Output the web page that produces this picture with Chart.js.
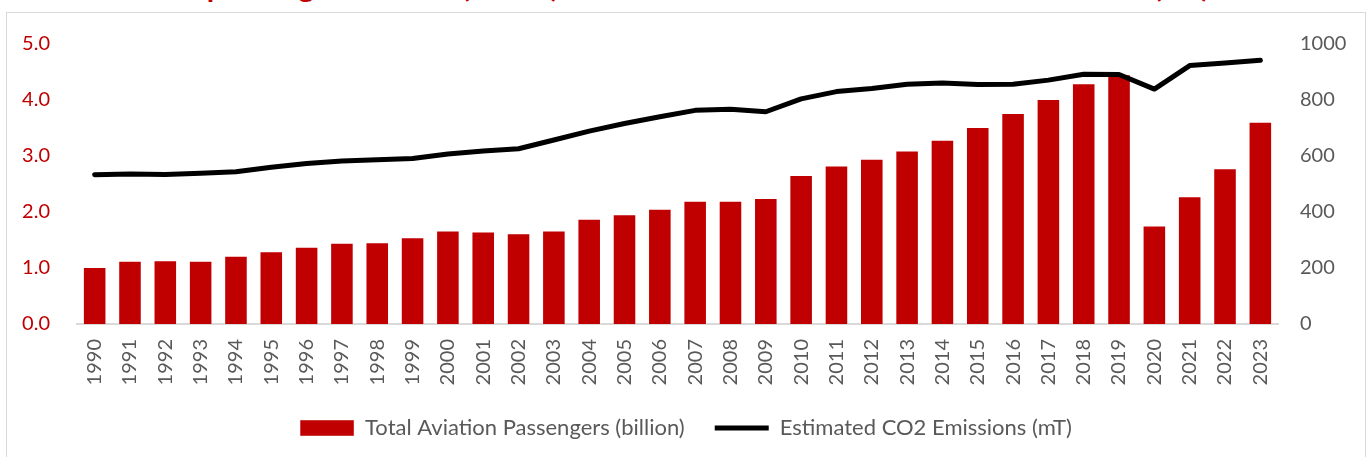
<!DOCTYPE html>
<html>
<head>
<meta charset="utf-8">
<script src="https://cdn.jsdelivr.net/npm/chart.js@4/dist/chart.umd.min.js"></script>
<style>
  html, body { margin: 0; padding: 0; background: #fff; overflow: hidden; }
  #title {
    position: absolute; left: 0; top: -30px; width: 1370px; text-align: center;
    font: bold 30px Lato, sans-serif; line-height: 30px; color: #c00000; white-space: nowrap;
  }
  #box {
    position: absolute; left: 6px; top: 12px; width: 1358px; height: 460px;
    border: 1px solid #d9d9d9;
  }
  #wrap { position: relative; width: 1358px; height: 444px; }
</style>
</head>
<body>
<div id="title">Air passengers carried (billion) and estimated CO2 emissions from aviation (mT)</div>
<div id="box"><div id="wrap"><canvas id="chart"></canvas></div></div>
<script>
// values
const years = ["1990", "1991", "1992", "1993", "1994", "1995", "1996", "1997", "1998", "1999",
  "2000", "2001", "2002", "2003", "2004", "2005", "2006", "2007", "2008", "2009",
  "2010", "2011", "2012", "2013", "2014", "2015", "2016", "2017", "2018", "2019",
  "2020", "2021", "2022", "2023"];

const passengers = [1.02, 1.13, 1.14, 1.13, 1.22, 1.30, 1.38, 1.45, 1.46, 1.55,
  1.67, 1.65, 1.62, 1.67, 1.88, 1.96, 2.06, 2.20, 2.20, 2.25,
  2.66, 2.83, 2.95, 3.10, 3.29, 3.52, 3.77, 4.02, 4.30, 4.46,
  1.76, 2.28, 2.78, 3.61];

const emissions = [533, 536, 534, 538, 544, 560, 573, 582, 587, 591,
  607, 618, 626, 657, 689, 716, 740, 763, 767, 758,
  804, 830, 841, 856, 861, 855, 856, 871, 892, 891,
  839, 923, 932, 942];

const leftTicks = [0, 1, 2, 3, 4, 5];
const rightTicks = [0, 200, 400, 600, 800, 1000];

const grey = "#595959";
const red = "#c00000";
const tickFont = { family: "Lato", size: 20 };

new Chart(document.getElementById("chart"), {
  type: "bar",
  data: {
    labels: years,
    datasets: [
      {
        type: "bar",
        label: "Total Aviation Passengers (billion)",
        data: passengers,
        backgroundColor: red,
        borderColor: "rgba(255,255,255,0.45)",
        borderWidth: 1,
        barPercentage: 0.667,
        categoryPercentage: 1,
        yAxisID: "y",
        order: 2,
        pointStyle: "rect"
      },
      {
        type: "line",
        label: "Estimated CO2 Emissions (mT)",
        data: emissions,
        borderColor: "#000",
        backgroundColor: "#000",
        borderWidth: 5,
        borderCapStyle: "round",
        borderJoinStyle: "round",
        pointRadius: 0,
        tension: 0,
        yAxisID: "y1",
        order: 1,
        pointStyle: "line"
      }
    ]
  },
  options: {
    responsive: true,
    maintainAspectRatio: false,
    animation: false,
    layout: { padding: { top: 23, left: 0, right: 0, bottom: 8 } },
    plugins: {
      tooltip: { enabled: false },
      legend: {
        position: "bottom",
        labels: {
          font: { family: "Lato", size: 22 },
          color: grey,
          usePointStyle: true,
          pointStyleWidth: 54,
          boxHeight: 16,
          padding: 30,
          sort: (a, b) => a.datasetIndex - b.datasetIndex
        }
      }
    },
    scales: {
      x: {
        grid: { display: false },
        border: { display: true, color: "#d9d9d9", width: 2 },
        ticks: { font: tickFont, color: grey, minRotation: 90, maxRotation: 90, padding: 7, autoSkip: false },
        afterFit: s => { s.height = 63; }
      },
      y: {
        position: "left",
        min: 0, max: 5,
        grid: { display: false },
        border: { display: false },
        afterBuildTicks: s => { s.ticks = leftTicks.map(v => ({ value: v })); },
        ticks: { font: tickFont, color: red, padding: 19, callback: v => v.toFixed(1) },
        afterFit: s => { s.width = 70; }
      },
      y1: {
        position: "right",
        min: 0, max: 1000,
        grid: { display: false },
        border: { display: false },
        afterBuildTicks: s => { s.ticks = rightTicks.map(v => ({ value: v })); },
        ticks: { font: tickFont, color: grey, padding: 14, callback: v => String(v) },
        afterFit: s => { s.width = 87; }
      }
    }
  }
});
</script>
</body>
</html>
